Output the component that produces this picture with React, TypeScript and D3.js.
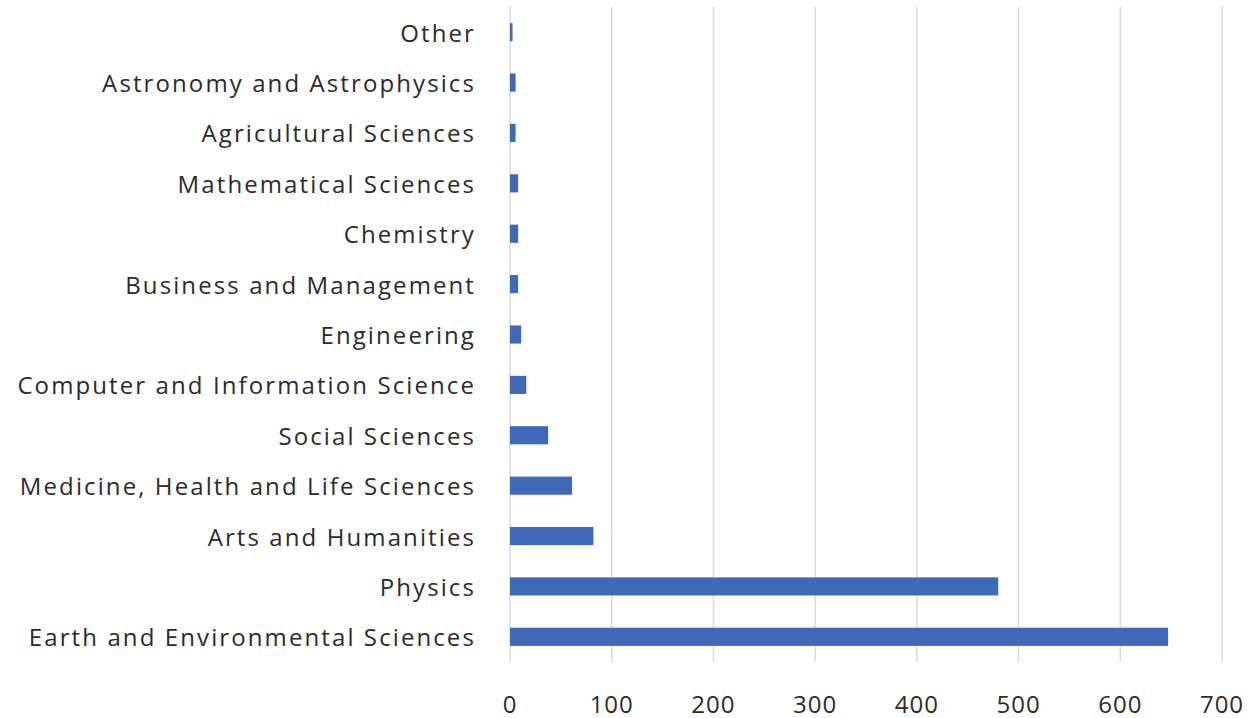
import React from "react";
import * as d3 from "d3";

const categories = [
  "Other",
  "Astronomy and Astrophysics",
  "Agricultural Sciences",
  "Mathematical Sciences",
  "Chemistry",
  "Business and Management",
  "Engineering",
  "Computer and Information Science",
  "Social Sciences",
  "Medicine, Health and Life Sciences",
  "Arts and Humanities",
  "Physics",
  "Earth and Environmental Sciences",
];
const values = [2.5, 5.5, 5.5, 8, 8, 8, 11, 16, 37.5, 61, 82, 480, 647];
const xTicks = [0, 100, 200, 300, 400, 500, 600, 700];

const W = 1249;
const H = 718;
const left = 510;
const right = 1222;
const top = 7;
const bottom = 662;

export default function App() {
  const x = d3.scaleLinear().domain([0, 700]).range([left, right]);
  const y = d3
    .scaleBand<string>()
    .domain(categories)
    .range([top, bottom])
    .paddingInner(0.64)
    .paddingOuter(0.32);
  const font = "'Open Sans', sans-serif";
  return (
    <svg
      width={W}
      height={H}
      style={{ position: "absolute", left: 0, top: 0, background: "#fff" }}
    >
      {xTicks.map((t) => (
        <line
          key={"g" + t}
          x1={x(t)}
          x2={x(t)}
          y1={top}
          y2={bottom}
          stroke="#d9d9d9"
          strokeWidth={1.5}
        />
      ))}
      {categories.map((c, i) => (
        <rect
          key={c}
          x={x(0)}
          y={y(c)}
          width={x(values[i]) - x(0)}
          height={y.bandwidth()}
          fill="#4068b8"
        />
      ))}
      {categories.map((c) => (
        <text
          key={"l" + c}
          x={476}
          y={(y(c) as number) + y.bandwidth() / 2}
          textAnchor="end"
          dominantBaseline="central"
          fontFamily={font}
          fontSize={24}
          letterSpacing={2.1}
          fill="#2b2b2b"
        >
          {c}
        </text>
      ))}
      {xTicks.map((t) => (
        <text
          key={"t" + t}
          x={x(t)}
          y={703}
          textAnchor="middle"
          dominantBaseline="central"
          fontFamily={font}
          fontSize={24}
          letterSpacing={1}
          fill="#2b2b2b"
        >
          {t}
        </text>
      ))}
    </svg>
  );
}
